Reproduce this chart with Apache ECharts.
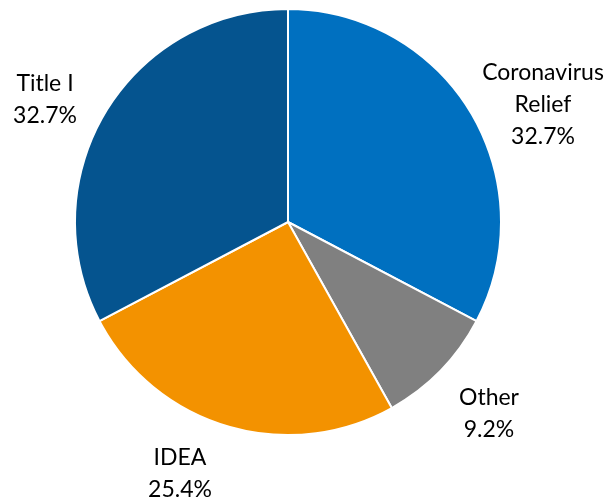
<!DOCTYPE html>
<html>
<head>
<meta charset="utf-8">
<script src="https://cdn.jsdelivr.net/npm/echarts@6/dist/echarts.min.js"></script>
<style>
html, body { margin: 0; padding: 0; background: #fff; }
#main { width: 609px; height: 500px; }
</style>
</head>
<body>
<div id="main"></div>
<script>
// funding share
var names = ['Coronavirus\nRelief', 'Other', 'IDEA', 'Title I'];
var values = [32.7, 9.2, 25.4, 32.7];
var colors = ['#0070C0', '#808080', '#F39200', '#05548F'];

// label centres (text placement only)
var labelPos = [[543, 105], [489, 414], [180, 474], [45, 100]];

var chart = echarts.init(document.getElementById('main'));

chart.setOption({
	animation : false,
	backgroundColor : '#fff',
	series : [ {
		type : 'pie',
		center : [ 288, 222 ],
		radius : 213,
		startAngle : 90,
		clockwise : true,
		itemStyle : {
			borderColor : '#fff',
			borderWidth : 2
		},
		label : {
			show : true,
			position : 'outside',
			overflow : 'none',
			formatter : function(p) {
				return p.name + '\n' + p.value.toFixed(1) + '%';
			},
			fontFamily : 'Lato, "Open Sans", sans-serif',
			fontSize : 23,
			lineHeight : 32,
			color : '#000',
			align : 'center'
		},
		labelLine : {
			show : false
		},
		labelLayout : function(p) {
			var pos = labelPos[p.dataIndex];
			return {
				x : pos[0],
				y : pos[1],
				width : 200,
				align : 'center',
				verticalAlign : 'middle'
			};
		},
		data : names.map(function(n, i) {
			return {
				name : n,
				value : values[i],
				itemStyle : { color : colors[i] }
			};
		})
	} ]
});
</script>
</body>
</html>
